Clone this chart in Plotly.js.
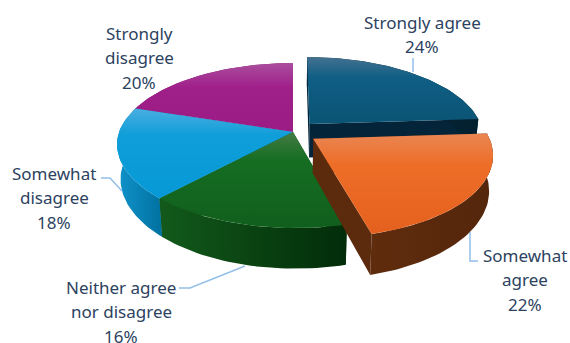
<!DOCTYPE html>
<html>
<head>
<meta charset="utf-8">
<script src="https://cdn.plot.ly/plotly-3.0.1.min.js"></script>
<style>html,body{margin:0;padding:0;background:#fff}#chart{width:570px;height:343px}</style>
</head>
<body>
<div id="chart"></div>
<script>
// Data
const categories = ["Strongly agree", "Somewhat agree", "Neither agree nor disagree", "Somewhat disagree", "Strongly disagree"];
const values = [24, 22, 16, 18, 20];
const exploded = [0.14, 0.14, 0, 0, 0];
const labelLines = [["Strongly agree"], ["Somewhat", "agree"], ["Neither agree", "nor disagree"], ["Somewhat", "disagree"], ["Strongly", "disagree"]];
// Label anchors: first line centre
const labelX = [422, 525, 121, 54, 139];
const labelY = [22, 255, 287, 173, 33];
const linePitch = 24.6;
// Colours (0 = bottom of the wedge, 1 = top of the wedge)
const topStops = [
  [[0,"#0a5474"],[0.7,"#105e85"],[1,"#44718f"]],
  [[0,"#e4601e"],[0.7,"#ee6e28"],[1,"#e98653"]],
  [[0,"#115f1d"],[0.7,"#156d22"],[1,"#437b44"]],
  [[0,"#0699d6"],[0.7,"#0f9ed9"],[1,"#4aaee0"]],
  [[0,"#9c1c86"],[0.65,"#a0208a"],[1,"#aa4e9e"]]
];
const sideStops = [
  [[0,"#05283c"],[1,"#03202f"]],
  [[0,"#602c0e"],[1,"#54260b"]],
  [[0,"#125a1b"],[1,"#022c09"]],
  [[0,"#1193cc"],[1,"#00719f"]],
  [[0,"#7a1368"],[1,"#7a1368"]]
];
const faceColors = ["#04243a", "#5c2a0d", "#0f4f17", "#00719f", "#7a1368"];
// Projection of the tilted disc
const cx = 293, cy = 132, f = 174, a = 80.3, k = 0.1636, D = 34, shrink = 0.02, lean = 2.5;
function project(X, Y, z) {
  const w = 1 + k * Y;
  return [cx + f * X / w * (1 - shrink * z) + Math.max(0, -Y) * lean, cy - a * Y / w + z * D / w];
}
const total = values.reduce((s, v) => s + v, 0);
const traces = [];
function poly(name, pts, fill) {
  const t = {
    type: "scatter", mode: "lines", name: name, hoverinfo: "skip", showlegend: false,
    x: pts.map(p => p[0]), y: pts.map(p => p[1]),
    fill: "toself", line: {width: 0, color: "rgba(0,0,0,0)"}
  };
  Object.assign(t, fill);
  traces.push(t);
}
const wedges = [];
let acc = 0;
values.forEach((v, i) => {
  const a0 = acc / total * 2 * Math.PI;
  acc += v;
  const a1 = acc / total * 2 * Math.PI;
  const mid = (a0 + a1) / 2;
  wedges.push({i, a0, a1, ox: exploded[i] * Math.sin(mid), oy: exploded[i] * Math.cos(mid)});
});
function rim(w, z, from, to) {
  const n = Math.max(2, Math.ceil(Math.abs(to - from) / 0.03));
  const out = [];
  for (let j = 0; j <= n; j++) {
    const t = from + (to - from) * j / n;
    out.push(project(w.ox + Math.sin(t), w.oy + Math.cos(t), z));
  }
  return out;
}
function drawSides(w) {
  const c0 = project(w.ox, w.oy, 0), c1 = project(w.ox, w.oy, 1);
  const s = categories[w.i];
  poly(s + " inner", [c0, project(w.ox + Math.sin(w.a0), w.oy + Math.cos(w.a0), 0), project(w.ox + Math.sin(w.a0), w.oy + Math.cos(w.a0), 1), c1, c0], {fillcolor: faceColors[w.i]});
  poly(s + " face", [c0, project(w.ox + Math.sin(w.a1), w.oy + Math.cos(w.a1), 0), project(w.ox + Math.sin(w.a1), w.oy + Math.cos(w.a1), 1), c1, c0], {fillcolor: faceColors[w.i]});
  poly(s + " side", rim(w, 0, w.a0, w.a1).concat(rim(w, 1, w.a1, w.a0)), {
    fillcolor: faceColors[w.i],
    fillgradient: {type: "horizontal", colorscale: sideStops[w.i]}
  });
}
function drawTop(w) {
  const c0 = project(w.ox, w.oy, 0);
  poly(categories[w.i], [c0].concat(rim(w, 0, w.a0, w.a1)).concat([c0]), {
    fillcolor: topStops[w.i][1][1],
    fillgradient: {type: "vertical", colorscale: topStops[w.i]}
  });
}
// Back to front
[0].forEach(i => { drawSides(wedges[i]); drawTop(wedges[i]); });
[4, 3, 2].forEach(i => drawSides(wedges[i]));
[4, 3, 2].forEach(i => drawTop(wedges[i]));
drawSides(wedges[1]); drawTop(wedges[1]);

// Data labels
const annotations = [];
categories.forEach((c, i) => {
  labelLines[i].concat([values[i] + "%"]).forEach((txt, j) => {
    annotations.push({
      x: labelX[i], y: labelY[i] + j * linePitch, xref: "x", yref: "y",
      text: txt, showarrow: false, xanchor: "center", yanchor: "middle",
      font: {family: "Noto Sans, sans-serif", size: 17, color: "#2c4260"}
    });
  });
});
// Leader lines
const leaderPaths = ["M413,58 L413,72", "M470,232 L470,261 L478,261", "M101,178 L110,178 L122,191", "M179,288 L190,288 L245,266"];
const shapes = leaderPaths.map(p => ({type: "path", path: p, xref: "x", yref: "y", line: {color: "#93bfe8", width: 1.5}, layer: "below"}));

Plotly.newPlot("chart", traces, {
  width: 570, height: 343,
  margin: {l: 0, r: 0, t: 0, b: 0},
  paper_bgcolor: "#fff", plot_bgcolor: "#fff",
  xaxis: {range: [0, 570], visible: false, fixedrange: true},
  yaxis: {range: [343, 0], visible: false, fixedrange: true},
  annotations, shapes, showlegend: false
}, {displayModeBar: false, staticPlot: true});
</script>
</body>
</html>
